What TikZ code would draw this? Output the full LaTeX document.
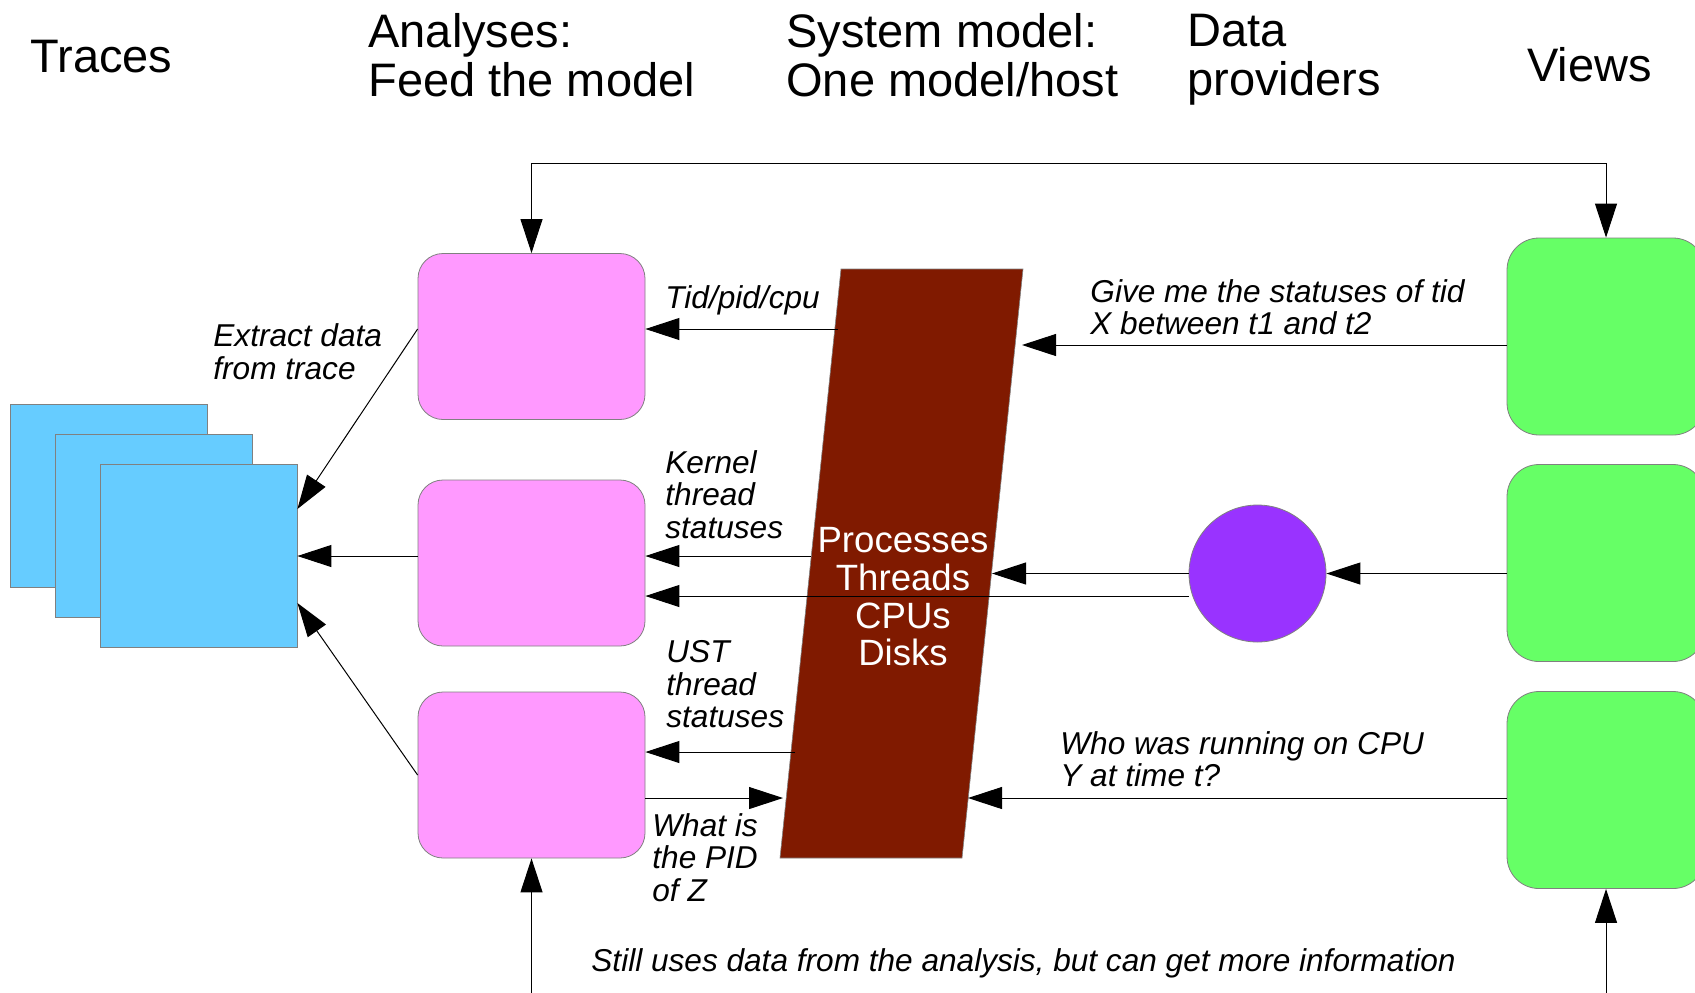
\documentclass[tikz,border=0pt]{standalone}
\usepackage{fontspec}
\setmainfont{Liberation Sans}
\usetikzlibrary{arrows.meta,calc}

\definecolor{bleutrace}{HTML}{66CCFF}
\definecolor{roseana}{HTML}{FF99FF}
\definecolor{vertvue}{HTML}{66FF66}
\definecolor{violetfour}{HTML}{9933FF}
\definecolor{brunmodele}{HTML}{801A00}

\begin{document}
\begin{tikzpicture}[x=0.5pt,y=-0.5pt,
  trace/.style={draw=gray,fill=bleutrace,minimum width=98.5pt,minimum height=91.5pt,inner sep=0},
  ana/.style={draw=gray,fill=roseana,rounded corners=12.5pt,minimum width=113.5pt,minimum height=83pt,inner sep=0},
  vue/.style={draw=gray,fill=vertvue,rounded corners=16pt,minimum width=99pt,minimum height=98.5pt,inner sep=0},
  fleche/.style={-{Triangle[length=17pt,width=11pt]},line width=0.5pt},
  fleches/.style={{Triangle[length=17pt,width=11pt]}-{Triangle[length=17pt,width=11pt]},line width=0.5pt},
  titre/.style={anchor=north west,inner sep=0,align=left,font=\fontsize{23.5pt}{24.5pt}\selectfont},
  etiq/.style={anchor=north west,inner sep=0,align=left,font=\fontsize{15.8pt}{16.3pt}\selectfont\itshape}]

\path[use as bounding box] (0,0) rectangle (1695,992);
\clip (0,0) rectangle (1695,992);

% Titres
\node[titre] (tTraces) at (30,39.5) {Traces};
\node[titre] (tAna) at (368,13.5) {Analyses:\\Feed the model};
\node[titre] (tSys) at (786,13.5) {System model:\\One model/host};
\node[titre] (tData) at (1187,13.5) {Data\\providers};
\node[titre] (tViews) at (1527,47) {Views};

% Traces
\node[trace] (trace1) at (108.5,495.5) {};
\node[trace] (trace2) at (153.5,526) {};
\node[trace] (trace3) at (198.5,556) {};

% Analyses
\node[ana] (ana1) at (531.5,336.5) {};
\node[ana] (ana2) at (531.5,563) {};
\node[ana] (ana3) at (531.5,775) {};

% Vues
\node[vue] (vue1) at (1606,336.5) {};
\node[vue] (vue2) at (1606,563) {};
\node[vue] (vue3) at (1606,790) {};

% Fournisseur de donnees
\node[circle,draw=gray,fill=violetfour,minimum size=68.5pt,inner sep=0] (four) at (1257.5,573.5) {};

% Modele du systeme
\coordinate (mHG) at (841,269);
\coordinate (mHD) at (1023,269);
\coordinate (mBD) at (962,858);
\coordinate (mBG) at (780,858);
\fill[brunmodele,draw=gray,line width=0.3pt] (mHG) -- (mHD) -- (mBD) -- (mBG) -- cycle;

% Points sur les bords du modele
\coordinate (tid) at (838,329);
\coordinate (give) at (1022,345);
\coordinate (kern) at (811,556);
\coordinate (fourbas) at (1189,596);
\coordinate (fourmod) at (992,573.5);
\coordinate (ust) at (795,752);
\coordinate (pid) at (783,798);
\coordinate (who) at (968,798);
\coordinate (haut) at (531.5,163);
\coordinate (bas1) at (531.5,1000);
\coordinate (bas2) at (1606,1000);

% Fleches
\draw[fleches] (ana1.north) -- (haut) -| (vue1.north);
\draw[fleche] (bas1) -- (ana3.south);
\draw[fleche] (bas2) -- (vue3.south);

\draw[fleche] (ana1.west |- tid) -- ([yshift=23.5pt]trace3.east);
\draw[fleche] (ana2.west |- trace3.east) -- (trace3.east);
\draw[fleche] (ana3.west) -- ([yshift=-23.5pt]trace3.east);

\draw[fleche] (tid) -- (ana1.east |- tid);
\draw[fleche] (vue1.west |- give) -- (give);
\draw[fleche] (kern) -- (ana2.east |- kern);
\draw[fleche] (fourbas) -- (ana2.east |- fourbas);
\draw[fleche] (four.west) -- (fourmod);
\draw[fleche] (vue2.west |- four.east) -- (four.east);
\draw[fleche] (ust) -- (ana3.east |- ust);
\draw[fleche] (ana3.east |- pid) -- (pid);
\draw[fleche] (vue3.west |- who) -- (who);

% Textes
\node[anchor=north,inner sep=0,align=center,text=white,
  font=\fontsize{18.3pt}{18.9pt}\selectfont] (modele) at (903,527)
  {Processes\\Threads\\CPUs\\Disks};
\node[etiq] (lExtract) at (213,323.5) {Extract data\\from trace};
\node[etiq] (lTid) at (665,285) {Tid/pid/cpu};
\node[etiq] (lGive) at (1090,279) {Give me the statuses of tid\\X between t1 and t2};
\node[etiq] (lKernel) at (665,450) {Kernel\\thread\\statuses};
\node[etiq] (lUst) at (666,640) {UST\\thread\\statuses};
\node[etiq] (lPid) at (652,813) {What is\\the PID\\of Z};
\node[etiq] (lWho) at (1060,731) {Who was running on CPU\\Y at time t?};
\node[etiq] (lStill) at (591,948) {Still uses data from the analysis, but can get more information};
\end{tikzpicture}
\end{document}
